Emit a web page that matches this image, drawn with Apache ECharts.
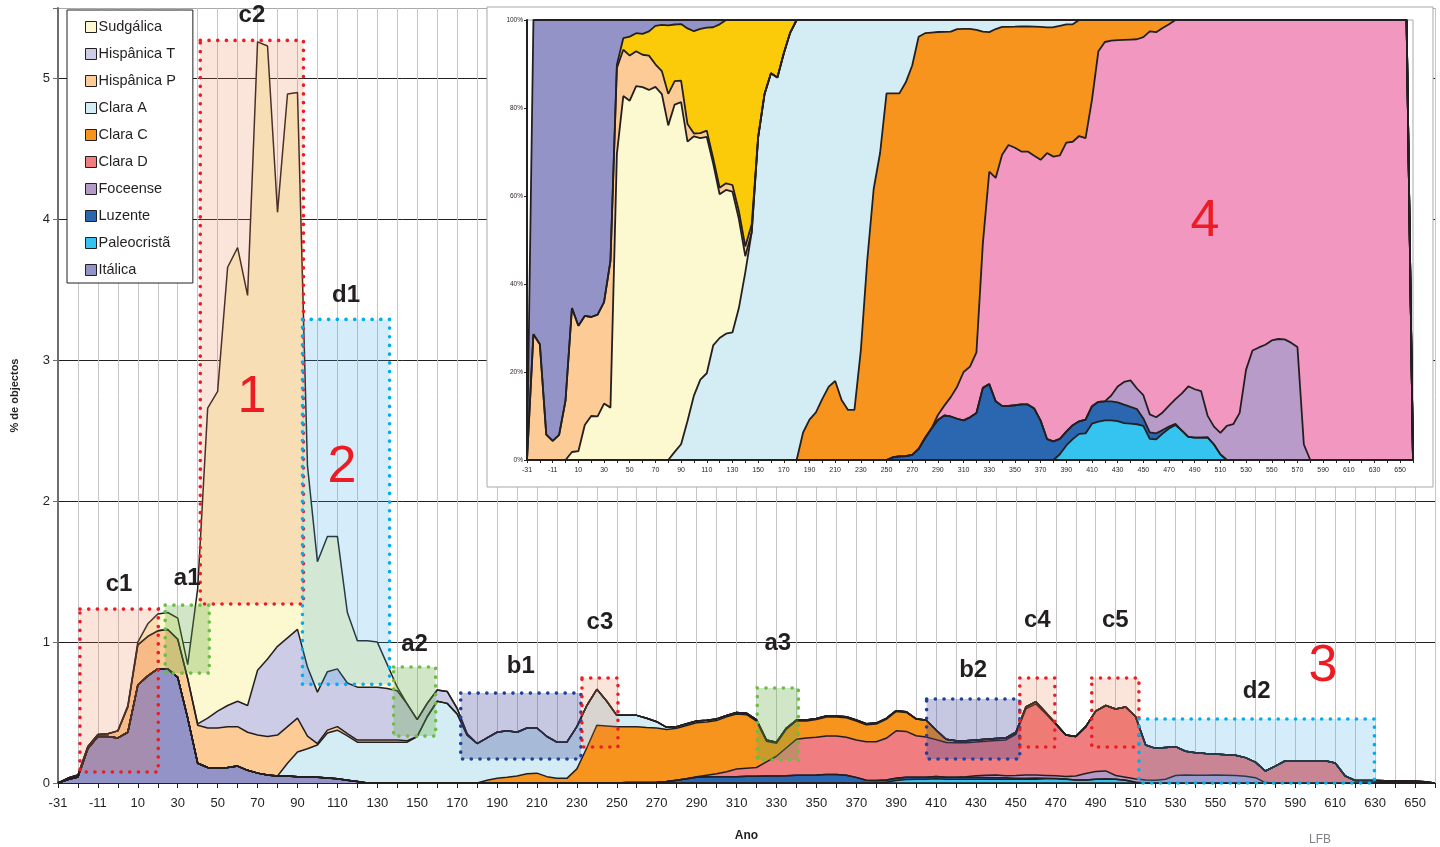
<!DOCTYPE html>
<html style="height: 100%">
<head>
<meta charset="utf-8">
<script src="https://cdn.jsdelivr.net/npm/echarts@6.0.0/dist/echarts.min.js"></script>
</head>
<body style="height: 100%; margin: 0; background: #fff">
<div id="container" style="width: 1440px; height: 847px"></div>
<script type="text/javascript">
// anos (categorias do eixo X)
var anos = [-31, -26, -21, -16, -11, -6, -1, 5,
  10, 15, 20, 25, 30, 35, 40, 45, 50, 55, 60, 65, 70, 75, 80, 85, 90, 95, 100, 105,
  110, 115, 120, 125, 130, 135, 140, 145, 150, 155, 160, 165, 170, 175, 180, 185, 190, 195, 200, 205,
  210, 215, 220, 225, 230, 235, 240, 245, 250, 255, 260, 265, 270, 275, 280, 285, 290, 295, 300, 305,
  310, 315, 320, 325, 330, 335, 340, 345, 350, 355, 360, 365, 370, 375, 380, 385, 390, 395, 400, 405,
  410, 415, 420, 425, 430, 435, 440, 445, 450, 455, 460, 465, 470, 475, 480, 485, 490, 495, 500, 505,
  510, 515, 520, 525, 530, 535, 540, 545, 550, 555, 560, 565, 570, 575, 580, 585, 590, 595, 600, 605,
  610, 615, 620, 625, 630, 635, 640, 645, 650, 655, 660];

// % de objectos por ano
var italica = [
  0, 0.025, 0.042, 0.245, 0.33, 0.33, 0.32, 0.36, 0.695, 0.76,
  0.81, 0.81, 0.75, 0.46, 0.14, 0.11, 0.105, 0.11, 0.12, 0.09,
  0.07, 0.057, 0.05, 0.05, 0.045, 0.043, 0.04, 0.035, 0.03, 0.02,
  0.01, 0, 0, 0, 0, 0, 0, 0, 0, 0,
  0, 0, 0, 0, 0, 0, 0, 0, 0, 0,
  0, 0, 0, 0, 0, 0, 0, 0, 0, 0,
  0, 0, 0, 0, 0, 0, 0, 0, 0, 0,
  0, 0, 0, 0, 0, 0, 0, 0, 0, 0,
  0, 0, 0, 0, 0, 0, 0, 0, 0, 0,
  0, 0, 0, 0, 0, 0, 0, 0, 0, 0,
  0, 0, 0, 0, 0, 0, 0, 0, 0, 0,
  0, 0, 0, 0, 0, 0, 0, 0, 0, 0,
  0, 0, 0, 0, 0, 0, 0, 0, 0, 0,
  0, 0, 0, 0, 0, 0, 0, 0, 0];
var paleocrista = [
  0, 0, 0, 0, 0, 0, 0, 0, 0, 0,
  0, 0, 0, 0, 0, 0, 0, 0, 0, 0,
  0, 0, 0, 0, 0, 0, 0, 0, 0, 0,
  0, 0, 0, 0, 0, 0, 0, 0, 0, 0,
  0, 0, 0, 0, 0, 0, 0, 0, 0, 0,
  0, 0, 0, 0, 0, 0, 0, 0, 0, 0,
  0, 0, 0, 0, 0, 0, 0, 0, 0, 0,
  0, 0, 0, 0, 0, 0, 0, 0, 0, 0,
  0, 0, 0, 0.006, 0.017, 0.024, 0.027, 0.027, 0.031, 0.027,
  0.027, 0.027, 0.027, 0.026, 0.026, 0.026, 0.028, 0.026, 0.027, 0.03,
  0.03, 0.027, 0.022, 0.021, 0.026, 0.028, 0.027, 0.019, 0.006, 0,
  0, 0, 0, 0, 0, 0, 0, 0, 0, 0,
  0, 0, 0, 0, 0, 0, 0, 0, 0, 0,
  0, 0, 0, 0, 0, 0, 0, 0, 0];
var luzente = [
  0, 0, 0, 0, 0, 0, 0, 0, 0, 0,
  0, 0, 0, 0, 0, 0, 0, 0, 0, 0,
  0, 0, 0, 0, 0, 0, 0, 0, 0, 0,
  0, 0, 0, 0, 0, 0, 0, 0, 0, 0,
  0, 0, 0, 0, 0, 0, 0, 0, 0, 0,
  0, 0, 0, 0, 0, 0, 0, 0.003, 0.004, 0.004,
  0.005, 0.01, 0.02, 0.03, 0.04, 0.045, 0.045, 0.045, 0.045, 0.048,
  0.048, 0.05, 0.05, 0.052, 0.055, 0.055, 0.057, 0.06, 0.06, 0.055,
  0.04, 0.02, 0.018, 0.016, 0.016, 0.016, 0.013, 0.014, 0.015, 0.014,
  0.013, 0.013, 0.013, 0.013, 0.012, 0.011, 0.006, 0.008, 0.008, 0.004,
  0.002, 0.001, 0, 0, 0, 0, 0, 0, 0, 0,
  0, 0, 0, 0, 0, 0, 0, 0, 0, 0,
  0, 0, 0, 0, 0, 0, 0, 0, 0, 0,
  0, 0, 0, 0, 0, 0, 0, 0, 0];
var foceense = [
  0, 0, 0, 0, 0, 0, 0, 0, 0, 0,
  0, 0, 0, 0, 0, 0, 0, 0, 0, 0,
  0, 0, 0, 0, 0, 0, 0, 0, 0, 0,
  0, 0, 0, 0, 0, 0, 0, 0, 0, 0,
  0, 0, 0, 0, 0, 0, 0, 0, 0, 0,
  0, 0, 0, 0, 0, 0, 0, 0, 0, 0,
  0, 0, 0, 0, 0, 0, 0, 0, 0, 0,
  0, 0, 0, 0, 0, 0, 0, 0, 0, 0,
  0, 0, 0, 0, 0, 0, 0, 0, 0, 0,
  0, 0.004, 0.011, 0.016, 0.019, 0.015, 0.019, 0.022, 0.021, 0.02,
  0.02, 0.019, 0.028, 0.046, 0.056, 0.058, 0.026, 0.022, 0.023, 0.021,
  0.02, 0.027, 0.053, 0.056, 0.055, 0.055, 0.056, 0.055, 0.054, 0.048,
  0.038, 0.003, 0, 0, 0, 0, 0, 0, 0, 0,
  0, 0, 0, 0, 0, 0, 0, 0, 0];
var claraD = [
  0, 0, 0, 0, 0, 0, 0, 0, 0, 0,
  0, 0, 0, 0, 0, 0, 0, 0, 0, 0,
  0, 0, 0, 0, 0, 0, 0, 0, 0, 0,
  0, 0, 0, 0, 0, 0, 0, 0, 0, 0,
  0, 0, 0, 0, 0, 0, 0, 0, 0, 0,
  0, 0, 0, 0, 0, 0, 0, 0, 0, 0,
  0, 0, 0, 0, 0.005, 0.01, 0.02, 0.035, 0.055, 0.057,
  0.062, 0.10, 0.14, 0.198, 0.255, 0.265, 0.268, 0.273, 0.273, 0.27,
  0.265, 0.273, 0.275, 0.295, 0.337, 0.326, 0.295, 0.286, 0.262, 0.247,
  0.245, 0.242, 0.24, 0.241, 0.244, 0.254, 0.293, 0.47, 0.505, 0.437,
  0.364, 0.293, 0.28, 0.333, 0.428, 0.464, 0.472, 0.499, 0.441, 0.249,
  0.226, 0.225, 0.205, 0.169, 0.16, 0.155, 0.15, 0.145, 0.143, 0.132,
  0.11, 0.082, 0.12, 0.158, 0.158, 0.158, 0.158, 0.158, 0.142, 0.05,
  0.018, 0.017, 0.017, 0.016, 0.015, 0.014, 0.012, 0.008, 0];
var claraC = [
  0, 0, 0, 0, 0, 0, 0, 0, 0, 0,
  0, 0, 0, 0, 0, 0, 0, 0, 0, 0,
  0, 0, 0, 0, 0, 0, 0, 0, 0, 0,
  0, 0, 0, 0, 0, 0, 0, 0, 0, 0,
  0, 0, 0, 0.02, 0.033, 0.04, 0.05, 0.065, 0.07, 0.045,
  0.033, 0.033, 0.10, 0.25, 0.41, 0.405, 0.40, 0.397, 0.396, 0.39,
  0.385, 0.37, 0.368, 0.378, 0.383, 0.378, 0.378, 0.39, 0.39, 0.38,
  0.33, 0.147, 0.092, 0.132, 0.13, 0.12, 0.126, 0.135, 0.135, 0.138,
  0.135, 0.12, 0.125, 0.135, 0.138, 0.135, 0.12, 0.12, 0.068, 0.022,
  0.015, 0.014, 0.014, 0.014, 0.014, 0.014, 0.014, 0.014, 0.016, 0.009,
  0.004, 0, 0, 0, 0, 0, 0, 0, 0, 0,
  0, 0, 0, 0, 0, 0, 0, 0, 0, 0,
  0, 0, 0, 0, 0, 0, 0, 0, 0, 0,
  0, 0, 0, 0, 0, 0, 0, 0, 0];
var claraA = [
  0, 0, 0, 0, 0, 0, 0, 0, 0, 0,
  0, 0, 0, 0, 0, 0, 0, 0, 0, 0,
  0, 0, 0, 0.09, 0.175, 0.20, 0.23, 0.32, 0.345, 0.315,
  0.28, 0.29, 0.29, 0.29, 0.29, 0.29, 0.33, 0.47, 0.58, 0.565,
  0.49, 0.34, 0.28, 0.30, 0.327, 0.33, 0.31, 0.325, 0.32, 0.285,
  0.257, 0.257, 0.30, 0.30, 0.255, 0.175, 0.08, 0.08, 0.08, 0.065,
  0.045, 0.015, 0.012, 0.012, 0.012, 0.012, 0.012, 0.01, 0.01, 0.01,
  0.01, 0.008, 0.008, 0.008, 0.007, 0.007, 0.007, 0.007, 0.007, 0.007,
  0.007, 0.007, 0.007, 0.006, 0.005, 0.005, 0, 0, 0, 0,
  0, 0, 0, 0, 0, 0, 0, 0, 0, 0,
  0, 0, 0, 0, 0, 0, 0, 0, 0, 0,
  0, 0, 0, 0, 0, 0, 0, 0, 0, 0,
  0, 0, 0, 0, 0, 0, 0, 0, 0, 0,
  0, 0, 0, 0, 0, 0, 0, 0, 0];
var hispanicaP = [
  0, 0.01, 0.015, 0.015, 0.015, 0.02, 0.05, 0.18, 0.285, 0.28,
  0.27, 0.28, 0.27, 0.28, 0.27, 0.28, 0.285, 0.29, 0.28, 0.27,
  0.27, 0.273, 0.29, 0.26, 0.24, 0.09, 0.01, 0.02, 0.025, 0.015,
  0.015, 0.015, 0.015, 0.015, 0.015, 0.01, 0, 0, 0, 0,
  0, 0, 0, 0, 0, 0, 0, 0, 0, 0,
  0, 0, 0, 0, 0, 0, 0, 0, 0, 0,
  0, 0, 0, 0, 0, 0, 0, 0, 0, 0,
  0, 0, 0, 0, 0, 0, 0, 0, 0, 0,
  0, 0, 0, 0, 0, 0, 0, 0, 0, 0,
  0, 0, 0, 0, 0, 0, 0, 0, 0, 0,
  0, 0, 0, 0, 0, 0, 0, 0, 0, 0,
  0, 0, 0, 0, 0, 0, 0, 0, 0, 0,
  0, 0, 0, 0, 0, 0, 0, 0, 0, 0,
  0, 0, 0, 0, 0, 0, 0, 0, 0];
var hispanicaT = [
  0, 0, 0, 0, 0, 0, 0, 0, 0, 0,
  0, 0, 0, 0, 0.01, 0.07, 0.12, 0.15, 0.18, 0.19,
  0.46, 0.55, 0.63, 0.63, 0.63, 0.49, 0.365, 0.415, 0.41, 0.36,
  0.375, 0.375, 0.375, 0.365, 0.35, 0.26, 0.12, 0.095, 0.08, 0.085,
  0.04, 0.01, 0, 0, 0, 0, 0, 0, 0, 0,
  0, 0, 0, 0, 0, 0, 0, 0, 0, 0,
  0, 0, 0, 0, 0, 0, 0, 0, 0, 0,
  0, 0, 0, 0, 0, 0, 0, 0, 0, 0,
  0, 0, 0, 0, 0, 0, 0, 0, 0, 0,
  0, 0, 0, 0, 0, 0, 0, 0, 0, 0,
  0, 0, 0, 0, 0, 0, 0, 0, 0, 0,
  0, 0, 0, 0, 0, 0, 0, 0, 0, 0,
  0, 0, 0, 0, 0, 0, 0, 0, 0, 0,
  0, 0, 0, 0, 0, 0, 0, 0, 0];
var sudgalica = [
  0, 0, 0, 0, 0, 0, 0, 0.01, 0.02, 0.09,
  0.12, 0.12, 0.15, 0.10, 0.96, 2.20, 2.27, 3.11, 3.22, 2.91,
  4.46, 4.35, 3.08, 3.86, 3.81, 1.43, 0.925, 0.96, 0.94, 0.50,
  0.33, 0.33, 0.32, 0.17, 0.025, 0, 0, 0, 0, 0,
  0, 0, 0, 0, 0, 0, 0, 0, 0, 0,
  0, 0, 0, 0, 0, 0, 0, 0, 0, 0,
  0, 0, 0, 0, 0, 0, 0, 0, 0, 0,
  0, 0, 0, 0, 0, 0, 0, 0, 0, 0,
  0, 0, 0, 0, 0, 0, 0, 0, 0, 0,
  0, 0, 0, 0, 0, 0, 0, 0, 0, 0,
  0, 0, 0, 0, 0, 0, 0, 0, 0, 0,
  0, 0, 0, 0, 0, 0, 0, 0, 0, 0,
  0, 0, 0, 0, 0, 0, 0, 0, 0, 0,
  0, 0, 0, 0, 0, 0, 0, 0, 0];

var yTicks = [0, 1, 2, 3, 4, 5];

var FONT = '"Liberation Sans", Arial, sans-serif';
var INK = '#231F20';

// series: nome, dados, cor no gráfico principal, cor no gráfico 100%
var fabricos = [
  { name: 'Itálica', data: italica, cor: '#9393C8', cor100: '#9393C8' },
  { name: 'Paleocristã', data: paleocrista, cor: '#35C4EF', cor100: '#35C4EF' },
  { name: 'Luzente', data: luzente, cor: '#2B66B0', cor100: '#2B66B0' },
  { name: 'Foceense', data: foceense, cor: '#B59AC8', cor100: '#B89BC8' },
  { name: 'Clara D', data: claraD, cor: '#F07D80', cor100: '#F297BF' },
  { name: 'Clara C', data: claraC, cor: '#F7941D', cor100: '#F7941D' },
  { name: 'Clara A', data: claraA, cor: '#D4EDF4', cor100: '#D4EDF4' },
  { name: 'Hispânica P', data: hispanicaP, cor: '#FCCB96', cor100: '#FCCB96' },
  { name: 'Hispânica T', data: hispanicaT, cor: '#CCCCE6', cor100: '#FBCB0A' },
  { name: 'Sudgálica', data: sudgalica, cor: '#FCF8D0', cor100: '#FCF8D0' }
];
// ordem de empilhamento do gráfico 100%
var ordem100 = ['Paleocristã', 'Luzente', 'Foceense', 'Clara D', 'Clara C', 'Clara A',
  'Sudgálica', 'Hispânica P', 'Hispânica T', 'Itálica'];

var totais = anos.map(function (a, i) {
  return fabricos.reduce(function (s, f) { return s + f.data[i]; }, 0);
});

function area(name, data, cor, stack, xi, yi, z, lw) {
  return {
    name: name, type: 'line', stack: stack, data: data,
    xAxisIndex: xi, yAxisIndex: yi, z: z,
    symbol: 'none', showSymbol: false, silent: true,
    itemStyle: { color: cor },
    lineStyle: { color: INK, width: lw },
    areaStyle: { color: cor, opacity: 1 },
    emphasis: { disabled: true }
  };
}

var series = fabricos.map(function (f) {
  return area(f.name, f.data, f.cor, 'total', 0, 0, 2, 1.5);
});
ordem100.forEach(function (n) {
  var f = fabricos.filter(function (g) { return g.name === n; })[0];
  var pct = f.data.map(function (v, i) { return totais[i] > 0 ? v / totais[i] * 100 : 0; });
  series.push(area(n + ' %', pct, f.cor100, 'pct', 1, 1, 10, 1.8));
});

// caixas de anotação (x em índice de categoria, y em %)
var estilos = {
  c: { borda: '#ED1C24', fundo: 'rgba(235,120,70,0.2)' },
  a: { borda: '#6CBD45', fundo: 'rgba(98,172,65,0.3)' },
  d: { borda: '#00AEEF', fundo: 'rgba(45,165,230,0.2)' },
  b: { borda: '#21409A', fundo: 'rgba(62,72,152,0.3)' }
};
var caixas = [
  ['c1', 2.2, 10.05, 0.078, 1.234, 11],
  ['c2', 14.26, 24.6, 1.27, 5.27, 11],
  ['a1', 10.74, 15.16, 0.78, 1.262, 13],
  ['d1', 24.5, 33.23, 0.70, 3.29, 10],
  ['a2', 33.63, 37.85, 0.333, 0.823, 9],
  ['b1', 40.36, 52.41, 0.17, 0.638, 13],
  ['c3', 52.51, 56.12, 0.255, 0.745, 42],
  ['a3', 70.08, 74.2, 0.163, 0.674, 31],
  ['b2', 87.05, 96.39, 0.17, 0.596, 15],
  ['c4', 96.39, 99.9, 0.255, 0.745, 44],
  ['c5', 103.6, 108.33, 0.255, 0.745, 44],
  ['d2', 108.33, 131.93, -0.012, 0.454, 14]
];
series.push({
  type: 'line', xAxisIndex: 2, yAxisIndex: 0, z: 3, clip: false,
  data: [[0, 0]], symbol: 'none', lineStyle: { opacity: 0 }, silent: true,
  markArea: {
    silent: true, z: 4,
    label: { show: true, position: 'top', fontSize: 24, fontWeight: 'bold', color: INK, fontFamily: FONT },
    data: caixas.map(function (c) {
      var e = estilos[c[0].charAt(0)];
      return [{
        name: c[0], coord: [c[1], c[4]],
        label: { distance: c[5] },
        itemStyle: { color: e.fundo, borderColor: e.borda, borderWidth: 3.6, borderType: [0.1, 8.6], borderCap: 'round' }
      }, { coord: [c[2], c[3]] }];
    })
  }
});

function numero(t, x, y) {
  return { type: 'text', x: x, y: y, z: 30,
    style: { text: t, fill: '#ED1C24', font: '52px ' + FONT, align: 'center', verticalAlign: 'middle' } };
}

var dom = document.getElementById('container');
var myChart = echarts.init(dom, null, { renderer: 'canvas' });
var option = {
  animation: false,
  backgroundColor: '#ffffff',
  textStyle: { fontFamily: FONT },
  legend: {
    data: ['Sudgálica', 'Hispânica T', 'Hispânica P', 'Clara A', 'Clara C', 'Clara D',
      'Foceense', 'Luzente', 'Paleocristã', 'Itálica'],
    orient: 'vertical', left: 67, top: 10, padding: [9, 17, 5, 18],
    itemGap: 11, itemWidth: 11, itemHeight: 11, icon: 'rect',
    backgroundColor: '#fff', borderColor: INK, borderWidth: 1,
    itemStyle: { borderColor: INK, borderWidth: 1 },
    textStyle: { fontSize: 14.5, color: INK, fontFamily: FONT, lineHeight: 16, padding: [0, 0, 0, -3] },
    selectedMode: false
  },
  grid: [
    { left: 58, right: 5, top: 8, bottom: 64, outerBoundsMode: 'none' },
    { left: 527, right: 27, top: 20, bottom: 387, outerBoundsMode: 'none',
      show: true, z: 9, borderColor: '#A7A9AC', borderWidth: 1 }
  ],
  xAxis: [{
    type: 'category', data: anos, boundaryGap: false, gridIndex: 0,
    axisLine: { lineStyle: { color: INK, width: 1 } },
    axisTick: { interval: 1, length: 5, lineStyle: { color: INK } },
    axisLabel: { interval: 3, fontSize: 13, color: INK, margin: 14 },
    splitLine: { show: true, interval: 1, lineStyle: { color: '#C4C6C8', width: 1 } },
    name: 'Ano', nameLocation: 'middle', nameGap: 47,
    nameTextStyle: { fontWeight: 'bold', fontSize: 12, color: INK }
  }, {
    type: 'category', data: anos, boundaryGap: false, gridIndex: 1, z: 11,
    axisLine: { lineStyle: { color: INK, width: 2 } },
    axisTick: { interval: 1, length: 3, lineStyle: { color: INK } },
    axisLabel: { interval: 3, fontSize: 7, color: INK, margin: 7 },
    splitLine: { show: false }
  }, {
    type: 'value', gridIndex: 0, min: 0, max: anos.length - 1, show: false
  }],
  yAxis: [{
    type: 'value', gridIndex: 0, min: 0, max: 5.5, interval: 1,
    axisLine: { show: true, lineStyle: { color: '#6D6E71', width: 2 } },
    axisTick: { show: true, length: 5, lineStyle: { color: '#6D6E71' } },
    axisLabel: { fontSize: 13, color: INK, margin: 8,
      formatter: function (v) { return yTicks.indexOf(v) >= 0 ? String(v) : ''; } },
    splitLine: { show: true, lineStyle: { color: [INK, INK, INK, INK, INK, INK, '#A7A9AC'], width: 1 } },
    name: '% de objectos', nameLocation: 'middle', nameGap: 38, nameRotate: 90,
    nameTextStyle: { fontWeight: 'bold', fontSize: 11, color: INK }
  }, {
    type: 'value', gridIndex: 1, min: 0, max: 100, interval: 20, z: 11,
    axisLine: { show: true, lineStyle: { color: INK, width: 2 } },
    axisTick: { show: true, length: 3, lineStyle: { color: INK } },
    axisLabel: { fontSize: 6.5, color: INK, margin: 4, formatter: '{value}%' },
    splitLine: { show: false }
  }],
  graphic: [
    { type: 'rect', z: 5, shape: { x: 487, y: 7, width: 946, height: 480 },
      style: { fill: '#fff', stroke: '#A7A9AC', lineWidth: 1 } },
    numero('1', 252, 398),
    numero('2', 342, 468),
    numero('3', 1323, 667),
    numero('4', 1205, 222),
    { type: 'text', x: 1320, y: 840, z: 30,
      style: { text: 'LFB', fill: '#808285', font: '12px ' + FONT, align: 'center', verticalAlign: 'middle' } }
  ],
  series: series
};
if (option && typeof option === 'object') {
  myChart.setOption(option, true);
}
</script>
</body>
</html>
